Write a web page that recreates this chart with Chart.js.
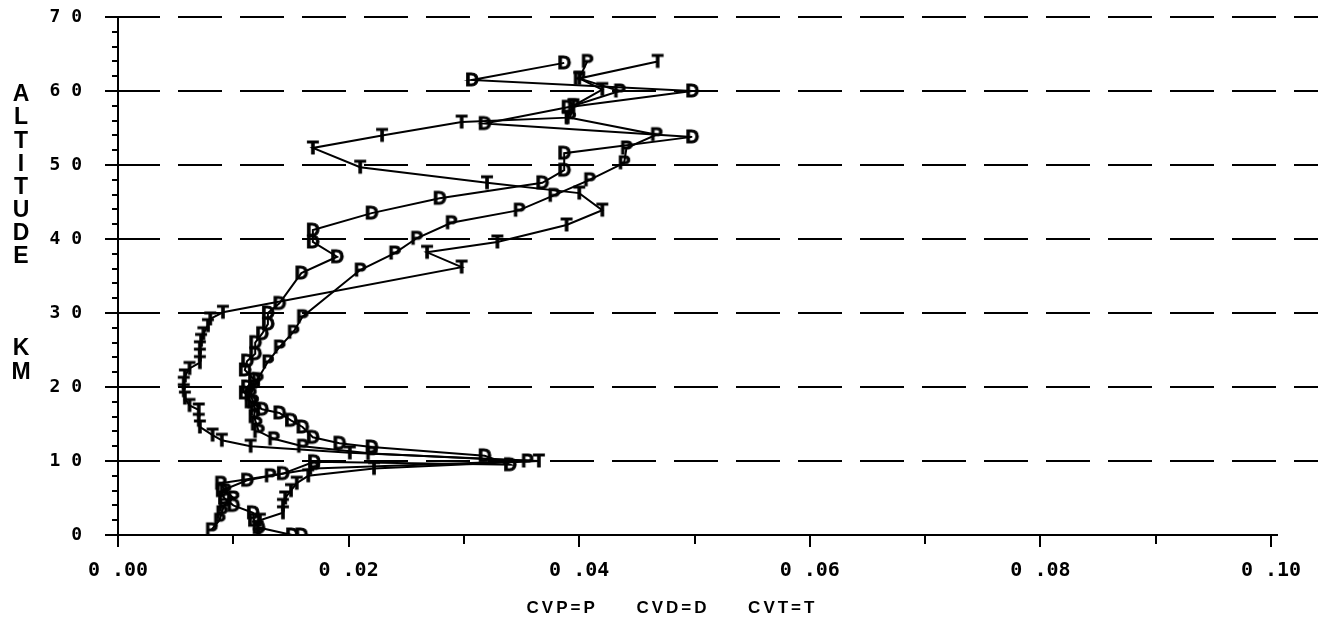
<!DOCTYPE html>
<html>
<head>
<meta charset="utf-8">
<script src="https://cdn.jsdelivr.net/npm/chart.js@4.4.1/dist/chart.umd.min.js"></script>
<style>
  html, body { margin: 0; padding: 0; background: #fff; }
  #wrap { width: 1322px; height: 626px; }
</style>
</head>
<body>
<div id="wrap"><canvas id="chart" width="1322" height="626"></canvas></div>
<script>
// altitude (km) and value for each curve
const pAlt = [0.7, 2, 3, 4, 5, 6, 7, 8, 9, 10, 11, 12, 13, 14, 15, 16, 17, 18, 19, 20, 21, 23.4, 25.4, 27.4, 29.5,
  35.8, 38.1, 40.1, 42.2, 43.9, 45.9, 48, 50.3, 52.3, 54.1, 56.4, 58, 60, 61.7, 64];
const pVal = [0.0081, 0.0088, 0.0090, 0.0092, 0.0100, 0.0093, 0.0089, 0.0132, 0.0170, 0.0355, 0.0220, 0.0160, 0.0135,
  0.0122, 0.0120, 0.0118, 0.0119, 0.0117, 0.0115, 0.0118, 0.0121, 0.0130, 0.0140, 0.0152, 0.0160,
  0.0210, 0.0240, 0.0259, 0.0289, 0.0348, 0.0378, 0.0409, 0.0439, 0.0441, 0.0467, 0.0392, 0.0395, 0.0435, 0.0400, 0.0407];

const dAlt = [0, 0, 1, 2, 3, 4, 5, 6, 7.4, 8.3, 9.9, 9.5, 10.7, 11.9, 12.4, 13.2, 14.6, 15.5, 16.5, 17, 18, 19.2, 20, 21,
  22.3, 23.5, 24.5, 26, 27.2, 28.5, 30, 31.3, 35.4, 37.6, 39.6, 41.2, 43.5, 45.5, 47.6, 49.3, 51.6, 53.8, 55.6,
  57.8, 60, 61.5, 63.8];
const dVal = [0.0159, 0.0151, 0.0122, 0.0118, 0.0117, 0.0100, 0.0092, 0.0090, 0.0112, 0.0143, 0.0170, 0.0340, 0.0318,
  0.0220, 0.0192, 0.0169, 0.0160, 0.0150, 0.0140, 0.0125, 0.0115, 0.0110, 0.0112, 0.0118, 0.0110, 0.0112, 0.0119,
  0.0119, 0.0125, 0.0130, 0.0130, 0.0140, 0.0159, 0.0190, 0.0169, 0.0169, 0.0220, 0.0279, 0.0368, 0.0387, 0.0387,
  0.0498, 0.0318, 0.0390, 0.0498, 0.0307, 0.0387];

const tAlt = [0, 1, 2, 3, 4, 5, 6, 7, 8, 9, 10, 11.1, 12, 12.8, 13.5, 14.6, 15.5, 16.9, 17.5, 18.5, 19.5, 20.5, 21.5,
  22.5, 23.3, 24.3, 25.3, 26.3, 27.2, 28.3, 29.2, 30.1, 36.2, 38.2, 39.6, 41.9, 43.9, 46.2, 47.6, 49.7, 52.3, 54,
  55.8, 56.4, 58, 60.2, 61.7, 64];
const tVal = [0.0122, 0.0121, 0.0123, 0.0143, 0.0143, 0.0145, 0.0150, 0.0155, 0.0165, 0.0222, 0.0365, 0.0201, 0.0115,
  0.0090, 0.0082, 0.0071, 0.0070, 0.0070, 0.0062, 0.0058, 0.0057, 0.0057, 0.0058, 0.0062, 0.0071, 0.0071, 0.0071,
  0.0072, 0.0074, 0.0078, 0.0080, 0.0091, 0.0298, 0.0268, 0.0329, 0.0389, 0.0420, 0.0400, 0.0320, 0.0210, 0.0169,
  0.0229, 0.0298, 0.0390, 0.0395, 0.0420, 0.0400, 0.0468];

const xTicks = [0, 0.02, 0.04, 0.06, 0.08, 0.10];
const yTicks = [0, 10, 20, 30, 40, 50, 60, 70];
const yTitle = ['A', 'L', 'T', 'I', 'T', 'U', 'D', 'E', '', '', '', 'K', 'M'];
const legendText = 'CVP=P     CVD=D     CVT=T';

function toPoints(alt, val) {
  return alt.map((a, i) => ({ x: val[i], y: a }));
}

// letter used as point marker
function makeMarker(letter) {
  const c = document.createElement('canvas');
  c.width = 16;
  c.height = 20;
  const g = c.getContext('2d');
  g.fillStyle = '#000';
  g.strokeStyle = '#000';
  g.lineWidth = 0.8;
  g.font = 'bold 19px "Liberation Sans Narrow", "Liberation Sans", sans-serif';
  g.textAlign = 'center';
  g.textBaseline = 'middle';
  g.fillText(letter, 8, 11);
  g.strokeText(letter, 8, 11);
  return c;
}

const decor = {
  id: 'decor',
  beforeDatasetsDraw(chart) {
    const ctx = chart.ctx;
    const xs = chart.scales.x, ys = chart.scales.y;
    const left = xs.left, bottom = ys.bottom;
    ctx.save();
    ctx.strokeStyle = '#000';
    ctx.lineWidth = 2;
    // dashed horizontal lines
    ctx.setLineDash([44, 18]);
    for (let v = 10; v <= 70; v += 10) {
      const y = Math.round(ys.getPixelForValue(v));
      ctx.beginPath();
      ctx.moveTo(left - 2, y);
      ctx.lineTo(1318, y);
      ctx.stroke();
    }
    ctx.setLineDash([]);
    // x ticks
    for (let i = 0; i <= 10; i++) {
      const x = Math.round(xs.getPixelForValue(i / 100));
      ctx.beginPath();
      ctx.moveTo(x, bottom);
      ctx.lineTo(x, bottom + (i % 2 === 0 ? 12 : 9));
      ctx.stroke();
    }
    // y ticks
    for (let v = 0; v <= 70; v += 2) {
      const y = Math.round(ys.getPixelForValue(v));
      ctx.beginPath();
      ctx.moveTo(left, y);
      ctx.lineTo(left - (v % 10 === 0 ? 13 : 6), y);
      ctx.stroke();
    }
    // axis runs a little past 0.10
    ctx.beginPath();
    ctx.moveTo(xs.right, bottom);
    ctx.lineTo(xs.right + 7, bottom);
    ctx.stroke();
    ctx.restore();
  },
  afterDraw(chart) {
    const ctx = chart.ctx;
    ctx.save();
    ctx.fillStyle = '#000';
    ctx.textAlign = 'center';
    ctx.textBaseline = 'middle';
    ctx.font = 'bold 23px "Liberation Sans Narrow", "Liberation Sans", sans-serif';
    yTitle.forEach((ch, i) => {
      if (ch) ctx.fillText(ch, 21, 95 + i * 23.1);
    });
    ctx.font = 'bold 17px "Liberation Sans", sans-serif';
    ctx.letterSpacing = '3px';
    ctx.fillText(legendText, 672, 608);
    ctx.restore();
  }
};

const lineStyle = {
  showLine: true,
  borderColor: '#000',
  borderWidth: 2,
  tension: 0,
  pointRadius: 8,
  pointHoverRadius: 8
};

new Chart(document.getElementById('chart'), {
  type: 'scatter',
  data: {
    datasets: [
      Object.assign({ label: 'CVP', data: toPoints(pAlt, pVal), pointStyle: makeMarker('P') }, lineStyle),
      Object.assign({ label: 'CVD', data: toPoints(dAlt, dVal), pointStyle: makeMarker('D') }, lineStyle),
      Object.assign({ label: 'CVT', data: toPoints(tAlt, tVal), pointStyle: makeMarker('T') }, lineStyle)
    ]
  },
  plugins: [decor],
  options: {
    responsive: false,
    animation: false,
    layout: { padding: { top: 17, right: 51, bottom: 40, left: 0 } },
    plugins: {
      legend: { display: false },
      tooltip: { enabled: false }
    },
    scales: {
      x: {
        type: 'linear',
        min: 0,
        max: 0.10,
        afterBuildTicks: (scale) => { scale.ticks = xTicks.map(v => ({ value: v })); },
        afterFit: (scale) => {
          scale.height = 51;
          scale.paddingLeft = 0;
          scale.paddingRight = 0;
        },
        grid: { display: false, drawTicks: false },
        border: { display: true, color: '#000', width: 2 },
        ticks: {
          color: '#000',
          padding: 24,
          maxRotation: 0,
          autoSkip: false,
          font: { family: '"DejaVu Sans Mono"', weight: 'bold', size: 20 },
          callback: (v) => {
            const s = Number(v).toFixed(2);
            return s[0] + ' ' + s.slice(1);
          }
        }
      },
      y: {
        type: 'linear',
        min: 0,
        max: 70,
        afterBuildTicks: (scale) => { scale.ticks = yTicks.map(v => ({ value: v })); },
        afterFit: (scale) => {
          scale.width = 118;
          scale.paddingTop = 0;
          scale.paddingBottom = 0;
        },
        grid: { display: false, drawTicks: false },
        border: { display: true, color: '#000', width: 2 },
        ticks: {
          color: '#000',
          padding: 36,
          autoSkip: false,
          font: { family: '"DejaVu Sans Mono"', weight: 'bold', size: 18 },
          callback: (v) => String(v).split('').join(' ')
        }
      }
    }
  }
});
</script>
</body>
</html>
